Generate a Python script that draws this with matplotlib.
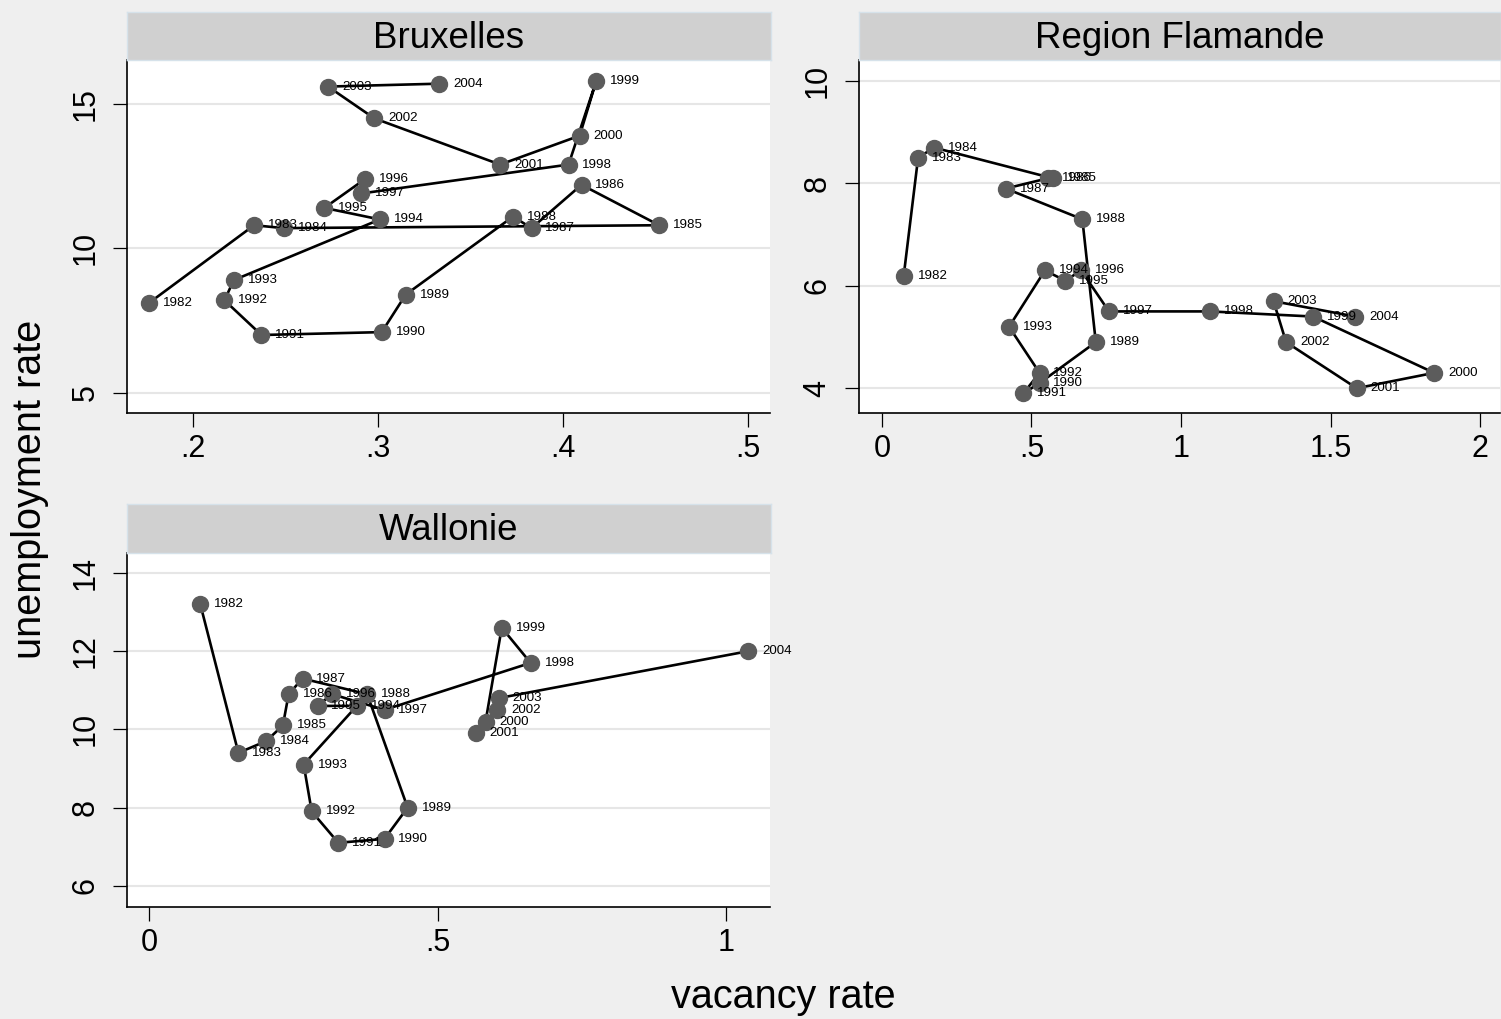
import matplotlib
matplotlib.use("Agg")
import matplotlib.pyplot as plt

plt.rcParams['font.family'] = ['Liberation Sans', 'DejaVu Sans']

years = list(range(1982, 2005))

bx_vac = [0.176, 0.233, 0.249, 0.452, 0.410, 0.383, 0.373, 0.315, 0.302, 0.237, 0.217, 0.222,
          0.301, 0.271, 0.293, 0.291, 0.403, 0.418, 0.409, 0.366, 0.298, 0.273, 0.333]
bx_unemp = [8.1, 10.8, 10.7, 10.8, 12.2, 10.7, 11.1, 8.4, 7.1, 7.0, 8.2, 8.9,
            11.0, 11.4, 12.4, 11.9, 12.9, 15.8, 13.9, 12.9, 14.5, 15.6, 15.7]

fl_vac = [0.073, 0.121, 0.174, 0.571, 0.555, 0.414, 0.670, 0.715, 0.527, 0.473, 0.527, 0.425,
          0.545, 0.613, 0.666, 0.759, 1.097, 1.441, 1.846, 1.587, 1.351, 1.309, 1.582]
fl_unemp = [6.2, 8.5, 8.7, 8.1, 8.1, 7.9, 7.3, 4.9, 4.1, 3.9, 4.3, 5.2,
            6.3, 6.1, 6.3, 5.5, 5.5, 5.4, 4.3, 4.0, 4.9, 5.7, 5.4]

wa_vac = [0.089, 0.155, 0.203, 0.232, 0.242, 0.266, 0.378, 0.448, 0.408, 0.328, 0.282, 0.268,
          0.360, 0.292, 0.317, 0.408, 0.661, 0.611, 0.583, 0.566, 0.603, 0.606, 1.038]
wa_unemp = [13.2, 9.4, 9.7, 10.1, 10.9, 11.3, 10.9, 8.0, 7.2, 7.1, 7.9, 9.1,
            10.6, 10.6, 10.9, 10.5, 11.7, 12.6, 10.2, 9.9, 10.5, 10.8, 12.0]

regions = ["Bruxelles", "Region Flamande", "Wallonie"]

bx_xticks = [0.2, 0.3, 0.4, 0.5]
bx_xticklabels = [".2", ".3", ".4", ".5"]
bx_yticks = [5, 10, 15]
fl_xticks = [0, 0.5, 1, 1.5, 2]
fl_xticklabels = ["0", ".5", "1", "1.5", "2"]
fl_yticks = [4, 6, 8, 10]
wa_xticks = [0, 0.5, 1]
wa_xticklabels = ["0", ".5", "1"]
wa_yticks = [6, 8, 10, 12, 14]

W, H = 1501, 1019
fig = plt.figure(figsize=(W / 100, H / 100), dpi=100, facecolor='#efefef')


def rect(l, t, r, b):
    return [l / W, 1 - b / H, (r - l) / W, (b - t) / H]


panels = [
    dict(name=regions[0], x=bx_vac, y=bx_unemp, box=(127, 60, 770, 413), htop=12,
         xlim=(0.1643, 0.5119), ylim=(4.30, 16.52),
         xt=bx_xticks, xtl=bx_xticklabels, yt=bx_yticks),
    dict(name=regions[1], x=fl_vac, y=fl_unemp, box=(859, 60, 1500, 413), htop=12,
         xlim=(-0.0765, 2.066), ylim=(3.516, 10.41),
         xt=fl_xticks, xtl=fl_xticklabels, yt=fl_yticks),
    dict(name=regions[2], x=wa_vac, y=wa_unemp, box=(127, 553, 770, 907), htop=504,
         xlim=(-0.0379, 1.0755), ylim=(5.458, 14.51),
         xt=wa_xticks, xtl=wa_xticklabels, yt=wa_yticks),
]

for p in panels:
    l, t, r, b = p['box']
    ax = fig.add_axes(rect(l, t, r, b))
    ax.set_facecolor('white')
    ax.plot(p['x'], p['y'], color='black', lw=1.9, zorder=2)
    ax.plot(p['x'], p['y'], linestyle='none', marker='o', markersize=11.5,
            markerfacecolor='#5c5c5c', markeredgecolor='#5c5c5c', zorder=3)
    for xv, yv, yr in zip(p['x'], p['y'], years):
        ax.annotate(str(yr), (xv, yv), xytext=(10, 0), textcoords='offset points',
                    fontsize=9.6, va='center', ha='left', color='black', zorder=4)
    ax.set_xlim(*p['xlim'])
    ax.set_ylim(*p['ylim'])
    ax.set_xticks(p['xt'])
    ax.set_xticklabels(p['xtl'])
    ax.set_yticks(p['yt'])
    ax.set_yticklabels([str(v) for v in p['yt']], rotation=90, va='center')
    ax.grid(axis='y', color='#e6e6e6', lw=1.5)
    ax.grid(axis='x', visible=False)
    ax.set_axisbelow(True)
    for s in ['top', 'right']:
        ax.spines[s].set_visible(False)
    for s in ['left', 'bottom']:
        ax.spines[s].set_color('black')
        ax.spines[s].set_linewidth(1.2)
    ax.tick_params(axis='x', direction='out', length=10, width=0.9, labelsize=22, pad=5)
    ax.tick_params(axis='y', direction='out', length=10, width=0.9, labelsize=22, pad=9)

    hax = fig.add_axes(rect(l, p['htop'], r + 1, t))
    hax.set_facecolor('#d0d0d0')
    hax.set_xticks([])
    hax.set_yticks([])
    for s in hax.spines.values():
        s.set_color('#d6e2ea')
        s.set_linewidth(1.0)
    hax.text(0.5, 0.45, p['name'], transform=hax.transAxes, ha='center', va='center',
             fontsize=26.5, color='black')

fig.text(783 / W, 1 - 997 / H, "vacancy rate", ha='center', va='center', fontsize=28.5)
fig.text(30 / W, 1 - 489 / H, "unemployment rate", ha='center', va='center',
         rotation=90, fontsize=28.5)

fig.savefig("out.png", dpi=100, facecolor=fig.get_facecolor())
